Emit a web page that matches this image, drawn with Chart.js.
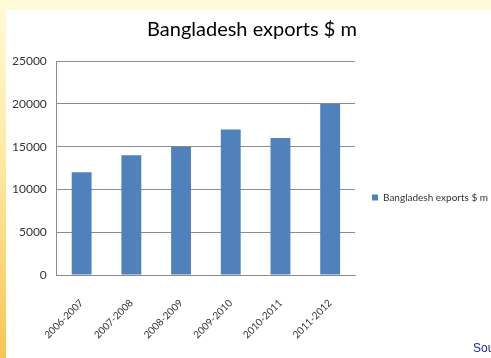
<!DOCTYPE html>
<html lang="en">
<head>
<meta charset="UTF-8">
<title>Bangladesh exports $ m</title>
<script src="https://cdn.jsdelivr.net/npm/chart.js"></script>
<style>
  html, body { margin: 0; padding: 0; width: 491px; height: 358px; overflow: hidden; }
  body {
    position: relative;
    font-family: Lato, sans-serif;
    background: linear-gradient(to bottom, #fffbd8 0%, #fde9a2 45%, #f9c554 100%);
  }
  .top-strip { position: absolute; left: 0; top: 0; width: 491px; height: 10px; background: #fffbd8; }
  .slide { position: absolute; left: 6px; top: 10px; width: 485px; height: 348px; background: #fff; }
  .chart-box { position: absolute; left: 6px; top: 10px; width: 498px; height: 353px; }
  .source {
    position: absolute; left: 473px; top: 341px;
    font: 12px "Liberation Sans", Arial, sans-serif; color: #1f2aa8; white-space: nowrap;
  }
</style>
</head>
<body>
<div class="top-strip"></div>
<div class="slide"></div>
<div class="chart-box"><canvas id="exportsChart"></canvas></div>
<div class="source">Source</div>

<script>
// data
const years = ['2006-2007', '2007-2008', '2008-2009', '2009-2010', '2010-2011', '2011-2012'];
const exportValues = [12000, 14000, 15000, 17000, 16000, 20000];
const yTicks = [0, 5000, 10000, 15000, 20000, 25000];

const axisGrey = '#8c8c8c';
const textGrey = '#333333';

// push the legend down a bit, the original sits lower than the centre
const legendShift = {
    id: 'legendShift',
    afterLayout(chart) {
        chart.legend.top += 11;
        chart.legend.bottom += 11;
    }
};

new Chart(document.getElementById('exportsChart'), {
    type: 'bar',
    data: {
        labels: years,
        datasets: [{
            label: 'Bangladesh exports $ m',
            data: exportValues,
            backgroundColor: '#4f81bd',
            borderWidth: 0,
            barPercentage: 0.4,
            categoryPercentage: 1.0
        }]
    },
    options: {
        responsive: true,
        maintainAspectRatio: false,
        animation: false,
        layout: { padding: { left: 0, top: 0, right: 6, bottom: 0 } },
        plugins: {
            title: {
                display: true,
                text: 'Bangladesh exports $ m',
                color: '#000',
                font: { family: 'Lato', size: 20, weight: 'normal' },
                padding: { top: 8, bottom: 19 }
            },
            legend: {
                position: 'right',
                maxWidth: 149,
                labels: {
                    boxWidth: 6,
                    boxHeight: 6,
                    padding: 17,
                    color: textGrey,
                    font: { family: 'Lato', size: 10 }
                }
            },
            tooltip: { enabled: false }
        },
        scales: {
            x: {
                grid: { display: false, drawTicks: false },
                border: { display: true, color: axisGrey, width: 1 },
                ticks: {
                    minRotation: 45,
                    maxRotation: 45,
                    padding: 22,
                    color: textGrey,
                    font: { family: 'Lato', size: 10 }
                }
            },
            y: {
                min: yTicks[0],
                max: yTicks[yTicks.length - 1],
                afterBuildTicks: axis => { axis.ticks = yTicks.map(v => ({ value: v })); },
                afterFit: axis => { axis.width -= 4; },
                grid: { color: axisGrey, drawTicks: false },
                border: { display: true, color: axisGrey, width: 1 },
                ticks: {
                    padding: 10,
                    color: textGrey,
                    font: { family: 'Lato', size: 12 },
                    callback: v => String(v)
                }
            }
        }
    },
    plugins: [legendShift]
});
</script>
</body>
</html>
